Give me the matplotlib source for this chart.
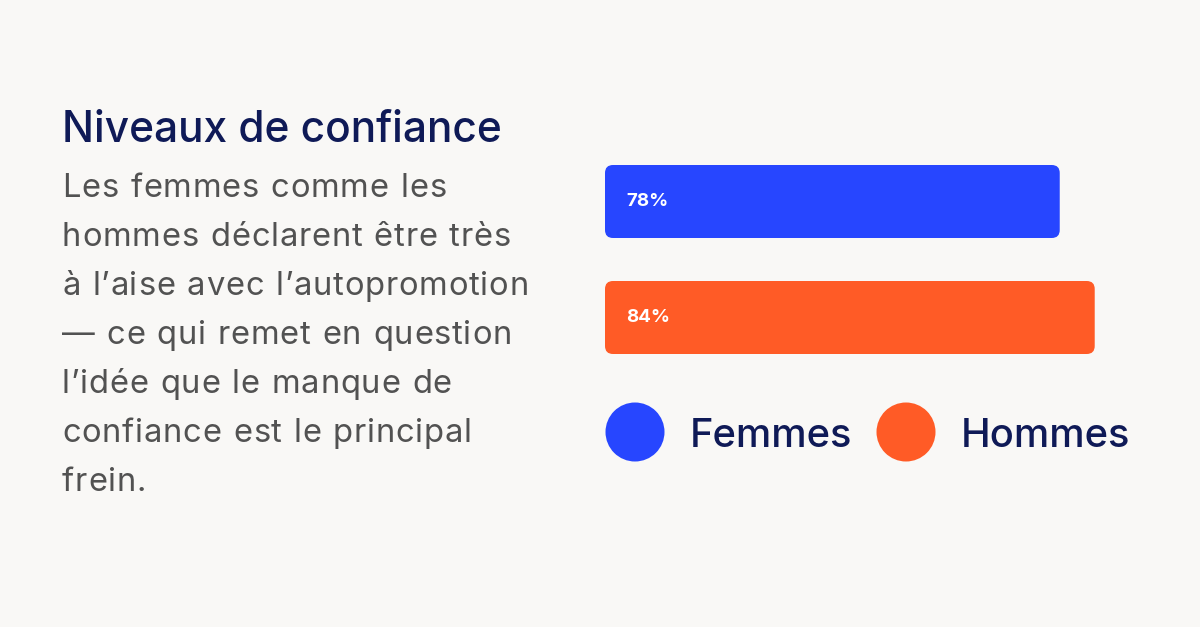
import matplotlib
matplotlib.use("Agg")
import matplotlib.pyplot as plt
from matplotlib.patches import FancyBboxPatch, Circle
from matplotlib.font_manager import FontProperties, findfont, get_font

# ---- data ----
categories = ["Femmes", "Hommes"]
values = [78, 84]
value_labels = ["78%", "84%"]
colors = ["#2746FF", "#FF5B26"]

title = "Niveaux de confiance"
body_lines = [
    "Les femmes comme les",
    "hommes déclarent être très",
    "à l’aise avec l’autopromotion",
    "— ce qui remet en question",
    "l’idée que le manque de",
    "confiance est le principal",
    "frein.",
]

BG = "#F9F8F6"
NAVY = "#0F1A57"
GRAY = "#525252"
W, H = 1200, 627
DPI = 100
FONT = ["Inter", "DejaVu Sans"]

fig = plt.figure(figsize=(W / DPI, H / DPI), dpi=DPI, facecolor=BG)

def fx(px):
    return px / W

def fy(py):
    return 1 - py / H

# ---- title ----
fig.text(fx(62), fy(142), title, fontsize=30.5, color=NAVY, family=FONT,
         fontweight="medium", va="baseline", ha="left")

# ---- body text with slight letter-spacing (drawn glyph by glyph) ----
BODY_SIZE = 23.6
TRACK = 0.75  # extra px between glyphs
SPACE_EXTRA = 1.0
fp = FontProperties(family="Inter", weight="normal", size=BODY_SIZE)
ft = get_font(findfont(fp))
ft.set_size(BODY_SIZE, DPI)

def glyph_advances(s):
    out = []
    for ch in s:
        g = ft.load_char(ord(ch))
        out.append(g.linearHoriAdvance / 65536)
    return out

for i, line in enumerate(body_lines):
    x = 62.0
    base = 197 + i * 49
    for ch, adv in zip(line, glyph_advances(line)):
        if ch != " ":
            fig.text(fx(x), fy(base), ch, fontproperties=fp, color=GRAY,
                     va="baseline", ha="left")
        else:
            x += SPACE_EXTRA
        x += adv + TRACK

# ---- bars ----
ax_left, ax_w = 605, 583
ax_top, ax_h = 143.5, 232
ax = fig.add_axes([fx(ax_left), fy(ax_top + ax_h), ax_w / W, ax_h / H])
ax.set_xlim(0, 100)
ax.set_ylim(1.5, -0.5)
ax.axis("off")
ax.set_facecolor("none")

bar_h = 73 / 116
x_per_px = 100 / ax_w
y_per_px = 2 / ax_h
aspect = y_per_px / x_per_px
radius = 8 * x_per_px
for i, (v, c, lab) in enumerate(zip(values, colors, value_labels)):
    patch = FancyBboxPatch((0, i - bar_h / 2), v, bar_h,
                           boxstyle=f"round,pad=0,rounding_size={radius}",
                           mutation_aspect=aspect, facecolor=c, edgecolor="none")
    ax.add_patch(patch)
    ax.text(21 * x_per_px, i, lab, color="white", fontsize=13.5, fontweight="bold",
            family=FONT, va="center", ha="left")

# ---- legend ----
lax = fig.add_axes([0, 0, 1, 1])
lax.set_xlim(0, W)
lax.set_ylim(H, 0)
lax.axis("off")
lax.set_facecolor("none")
leg_circles = [635, 906]
leg_text_x = [690, 961]
for cx, tx, c, name in zip(leg_circles, leg_text_x, colors, categories):
    lax.add_patch(Circle((cx, 432), 29.5, facecolor=c, edgecolor="none"))
    lax.text(tx, 447, name, color=NAVY, fontsize=28.7, fontweight="medium",
             family=FONT, va="baseline", ha="left")

fig.savefig("out.png", dpi=DPI, facecolor=BG)
